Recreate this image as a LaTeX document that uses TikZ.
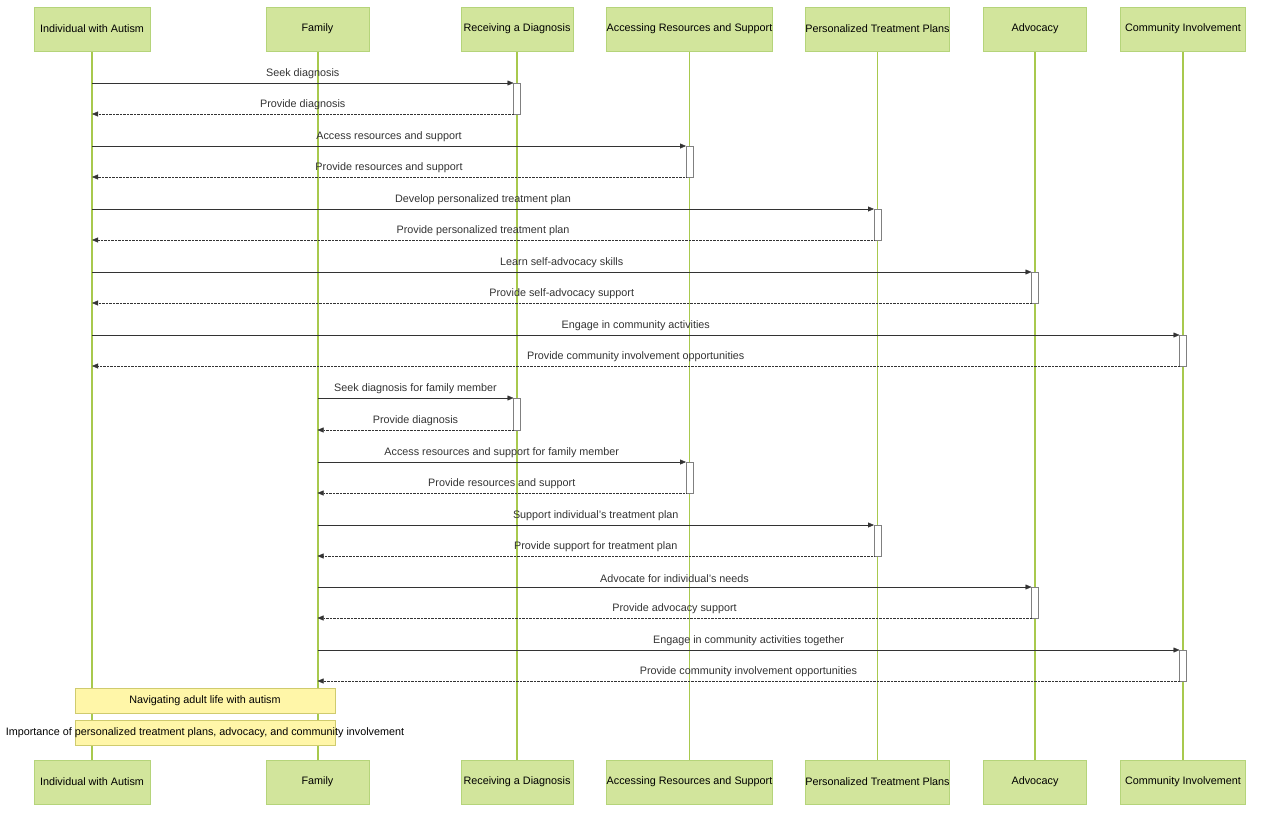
\documentclass[tikz,border=0pt]{standalone}
\usepackage{fontspec}
\setmainfont{Liberation Sans}
\usetikzlibrary{arrows.meta,calc}
\definecolor{partfill}{HTML}{D2E59C}
\definecolor{partline}{HTML}{B5D47A}
\definecolor{lifeline}{HTML}{A8C94E}
\definecolor{notefill}{HTML}{FFF6A8}
\definecolor{noteline}{HTML}{CFCB6E}
\definecolor{msgcol}{HTML}{333333}
\tikzset{
	part/.style={draw=partline, fill=partfill, minimum height=44pt, inner sep=0pt},
	life/.style={draw=lifeline, line width=1.2pt},
	req/.style={draw=msgcol, -{Triangle[length=6pt,width=5pt]}},
	rep/.style={draw=msgcol, densely dotted, -{Triangle[length=6pt,width=5pt]}},
	act/.style={draw=gray, fill=white, line width=0.5pt},
	note/.style={draw=noteline, fill=notefill, minimum width=260pt, minimum height=25pt, inner sep=0pt},
	lbl/.style={text=msgcol, above=1pt}
}
\begin{document}
\begin{tikzpicture}[x=1pt, y=-1pt, font=\fontsize{10.8}{12}\selectfont]
	\useasboundingbox (0,0) rectangle (1280,812);
	% lifelines first
	\foreach \x in {92,318,517,689.5,877.5,1035,1183}
		\draw[life] (\x,51) -- (\x,760);
	% participants, top and bottom
	\foreach \n/\x/\w/\txt in {ia/92/116/Individual with Autism, fam/317.5/103/Family,
		rd/517/112/Receiving a Diagnosis, ars/689.5/163/Accessing Resources and Support,
		ptp/877.5/143/Personalized Treatment Plans, adv/1035/103/Advocacy,
		ci/1183/125/Community Involvement} {
		\node[part, minimum width=\w pt] (\n) at (\x,29) {\txt};
		\node[part, minimum width=\w pt] (\n-b) at (\x,782) {\txt};
	}
	
	% messages
	\foreach \s/\t/\ya/\yb/\qa/\qb [count=\i] in {
		ia/rd/83/114/Seek diagnosis/Provide diagnosis,
		ia/ars/146/177/Access resources and support/Provide resources and support,
		ia/ptp/209/240/Develop personalized treatment plan/Provide personalized treatment plan,
		ia/adv/272/303/Learn self-advocacy skills/Provide self-advocacy support,
		ia/ci/335/366/Engage in community activities/Provide community involvement opportunities,
		fam/rd/398/430/Seek diagnosis for family member/Provide diagnosis,
		fam/ars/462/493/Access resources and support for family member/Provide resources and support,
		fam/ptp/525/556/Support individual's treatment plan/Provide support for treatment plan,
		fam/adv/587/618/Advocate for individual's needs/Provide advocacy support,
		fam/ci/650/681/Engage in community activities together/Provide community involvement opportunities} {
		\coordinate (src\i) at (\s |- {(0,\ya)});
		\coordinate (back\i) at (\s |- {(0,\yb)});
		\draw[act] ($(\t |- {(0,\ya)})+(-3.5,0)$) rectangle ($(\t |- {(0,\yb)})+(3.5,0)$);
		\coordinate (hit\i) at ($(\t |- {(0,\ya)})+(-3.5,0)$);
		\coordinate (ret\i) at ($(\t |- {(0,\yb)})+(-3.5,0)$);
		\draw[req] (src\i) -- (hit\i) node[midway, lbl] {\qa};
		\draw[rep] (ret\i) -- (back\i) node[midway, lbl] {\qb};
	}
	
	% notes
	\node[note] (note1) at (205,700.5) {Navigating adult life with autism};
	\node[note] (note2) at (205,732.5) {};
	\node at (note2) {Importance of personalized treatment plans, advocacy, and community involvement};
\end{tikzpicture}
\end{document}
